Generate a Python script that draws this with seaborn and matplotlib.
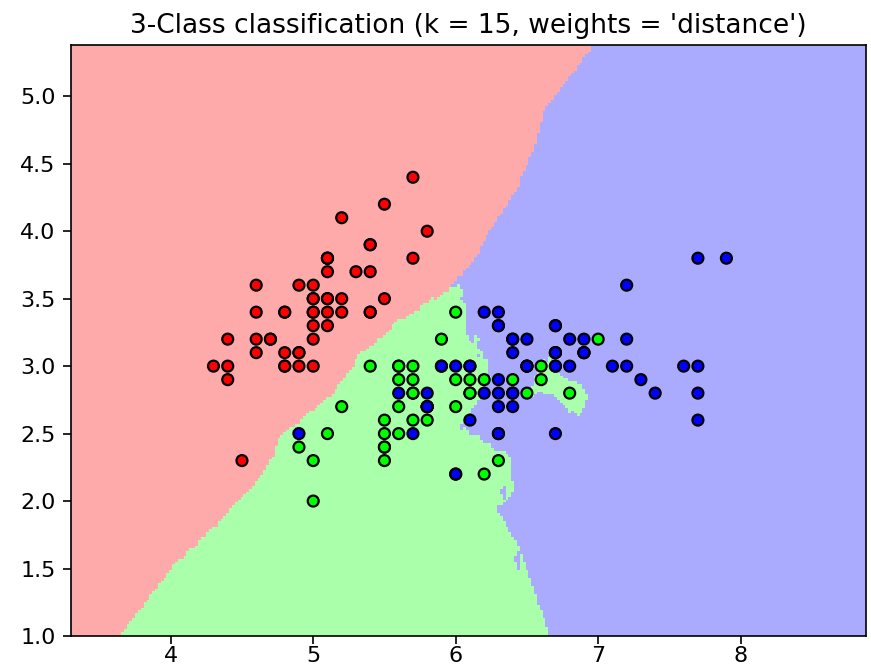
import numpy as np
import pandas as pd
import matplotlib
matplotlib.use("Agg")
import matplotlib.pyplot as plt
from matplotlib.colors import ListedColormap
import seaborn as sns

# Iris data: sepal length and sepal width for the three species
sepal_length = [
    5.1, 4.9, 4.7, 4.6, 5.0, 5.4, 4.6, 5.0, 4.4, 4.9, 5.4, 4.8, 4.8, 4.3, 5.8, 5.7, 5.4, 5.1, 5.7, 5.1,
    5.4, 5.1, 4.6, 5.1, 4.8, 5.0, 5.0, 5.2, 5.2, 4.7, 4.8, 5.4, 5.2, 5.5, 4.9, 5.0, 5.5, 4.9, 4.4, 5.1,
    5.0, 4.5, 4.4, 5.0, 5.1, 4.8, 5.1, 4.6, 5.3, 5.0,
    7.0, 6.4, 6.9, 5.5, 6.5, 5.7, 6.3, 4.9, 6.6, 5.2, 5.0, 5.9, 6.0, 6.1, 5.6, 6.7, 5.6, 5.8, 6.2, 5.6,
    5.9, 6.1, 6.3, 6.1, 6.4, 6.6, 6.8, 6.7, 6.0, 5.7, 5.5, 5.5, 5.8, 6.0, 5.4, 6.0, 6.7, 6.3, 5.6, 5.5,
    5.5, 6.1, 5.8, 5.0, 5.6, 5.7, 5.7, 6.2, 5.1, 5.7,
    6.3, 5.8, 7.1, 6.3, 6.5, 7.6, 4.9, 7.3, 6.7, 7.2, 6.5, 6.4, 6.8, 5.7, 5.8, 6.4, 6.5, 7.7, 7.7, 6.0,
    6.9, 5.6, 7.7, 6.3, 6.7, 7.2, 6.2, 6.1, 6.4, 7.2, 7.4, 7.9, 6.4, 6.3, 6.1, 7.7, 6.3, 6.4, 6.0, 6.9,
    6.7, 6.9, 5.8, 6.8, 6.7, 6.7, 6.3, 6.5, 6.2, 5.9,
]
sepal_width = [
    3.5, 3.0, 3.2, 3.1, 3.6, 3.9, 3.4, 3.4, 2.9, 3.1, 3.7, 3.4, 3.0, 3.0, 4.0, 4.4, 3.9, 3.5, 3.8, 3.8,
    3.4, 3.7, 3.6, 3.3, 3.4, 3.0, 3.4, 3.5, 3.4, 3.2, 3.1, 3.4, 4.1, 4.2, 3.1, 3.2, 3.5, 3.6, 3.0, 3.4,
    3.5, 2.3, 3.2, 3.5, 3.8, 3.0, 3.8, 3.2, 3.7, 3.3,
    3.2, 3.2, 3.1, 2.3, 2.8, 2.8, 3.3, 2.4, 2.9, 2.7, 2.0, 3.0, 2.2, 2.9, 2.9, 3.1, 3.0, 2.7, 2.2, 2.5,
    3.2, 2.8, 2.5, 2.8, 2.9, 3.0, 2.8, 3.0, 2.9, 2.6, 2.4, 2.4, 2.7, 2.7, 3.0, 3.4, 3.1, 2.3, 3.0, 2.5,
    2.6, 3.0, 2.6, 2.3, 2.7, 3.0, 2.9, 2.9, 2.5, 2.8,
    3.3, 2.7, 3.0, 2.9, 3.0, 3.0, 2.5, 2.9, 2.5, 3.6, 3.2, 2.7, 3.0, 2.5, 2.8, 3.2, 3.0, 3.8, 2.6, 2.2,
    3.2, 2.8, 2.8, 2.7, 3.3, 3.2, 2.8, 3.0, 2.8, 3.0, 2.8, 3.8, 2.8, 2.8, 2.6, 3.0, 3.4, 3.1, 3.0, 3.1,
    3.1, 3.1, 2.7, 3.2, 3.3, 3.0, 2.5, 3.0, 3.4, 3.0,
]
species = [0] * 50 + [1] * 50 + [2] * 50

n_neighbors = 15
step = 0.02

light_colors = ["#FFAAAA", "#AAFFAA", "#AAAAFF"]
bold_colors = ["#FF0000", "#00FF00", "#0000FF"]

X = np.column_stack([sepal_length, sepal_width])
y = np.array(species)

# Mesh covering the data with a one-unit margin
x_min, x_max = X[:, 0].min() - 1, X[:, 0].max() + 1
y_min, y_max = X[:, 1].min() - 1, X[:, 1].max() + 1
xx, yy = np.meshgrid(np.arange(x_min, x_max, step), np.arange(y_min, y_max, step))
grid = np.c_[xx.ravel(), yy.ravel()]


def knn_predict(points, X_train, y_train, k):
    """Distance-weighted k-nearest-neighbour vote."""
    out = np.empty(len(points), dtype=int)
    n_classes = y_train.max() + 1
    for start in range(0, len(points), 8000):
        p = points[start:start + 8000]
        d = np.sqrt(((p[:, None, :] - X_train[None, :, :]) ** 2).sum(-1))
        idx = np.argsort(d, axis=1, kind="stable")[:, :k]
        dk = np.take_along_axis(d, idx, axis=1)
        with np.errstate(divide="ignore"):
            w = 1.0 / dk
        zero = np.isinf(w).any(axis=1)
        w[zero] = (dk[zero] == 0).astype(float)
        votes = np.zeros((len(p), n_classes))
        labels = y_train[idx]
        for c in range(n_classes):
            votes[:, c] = (w * (labels == c)).sum(axis=1)
        out[start:start + 8000] = votes.argmax(axis=1)
    return out


Z = knn_predict(grid, X, y, n_neighbors).reshape(xx.shape)

plt.rcParams["font.family"] = ["DejaVu Sans"]
fig = plt.figure(figsize=(8.71, 6.72), dpi=100)
ax = fig.add_axes([0.0815, 0.0536, 0.9128, 0.8794])

ax.pcolormesh(xx, yy, Z, cmap=ListedColormap(light_colors), shading="auto")

df = pd.DataFrame({"sepal_length": X[:, 0], "sepal_width": X[:, 1], "species": y})
sns.scatterplot(
    data=df, x="sepal_length", y="sepal_width", hue="species",
    palette=bold_colors, edgecolor="k", s=62, linewidth=1.6,
    legend=False, ax=ax,
)

ax.set_xlim(xx.min(), xx.max())
ax.set_ylim(yy.min(), yy.max())
ax.set_xlabel("")
ax.set_ylabel("")
ax.set_title("3-Class classification (k = %i, weights = '%s')" % (n_neighbors, "distance"),
             fontsize=19, pad=9)
ax.tick_params(labelsize=16, length=6, width=1.2, pad=5)
ax.tick_params(axis="x", pad=1.5)
for sp in ax.spines.values():
    sp.set_linewidth(1.2)

fig.savefig("out.png", dpi=100)
